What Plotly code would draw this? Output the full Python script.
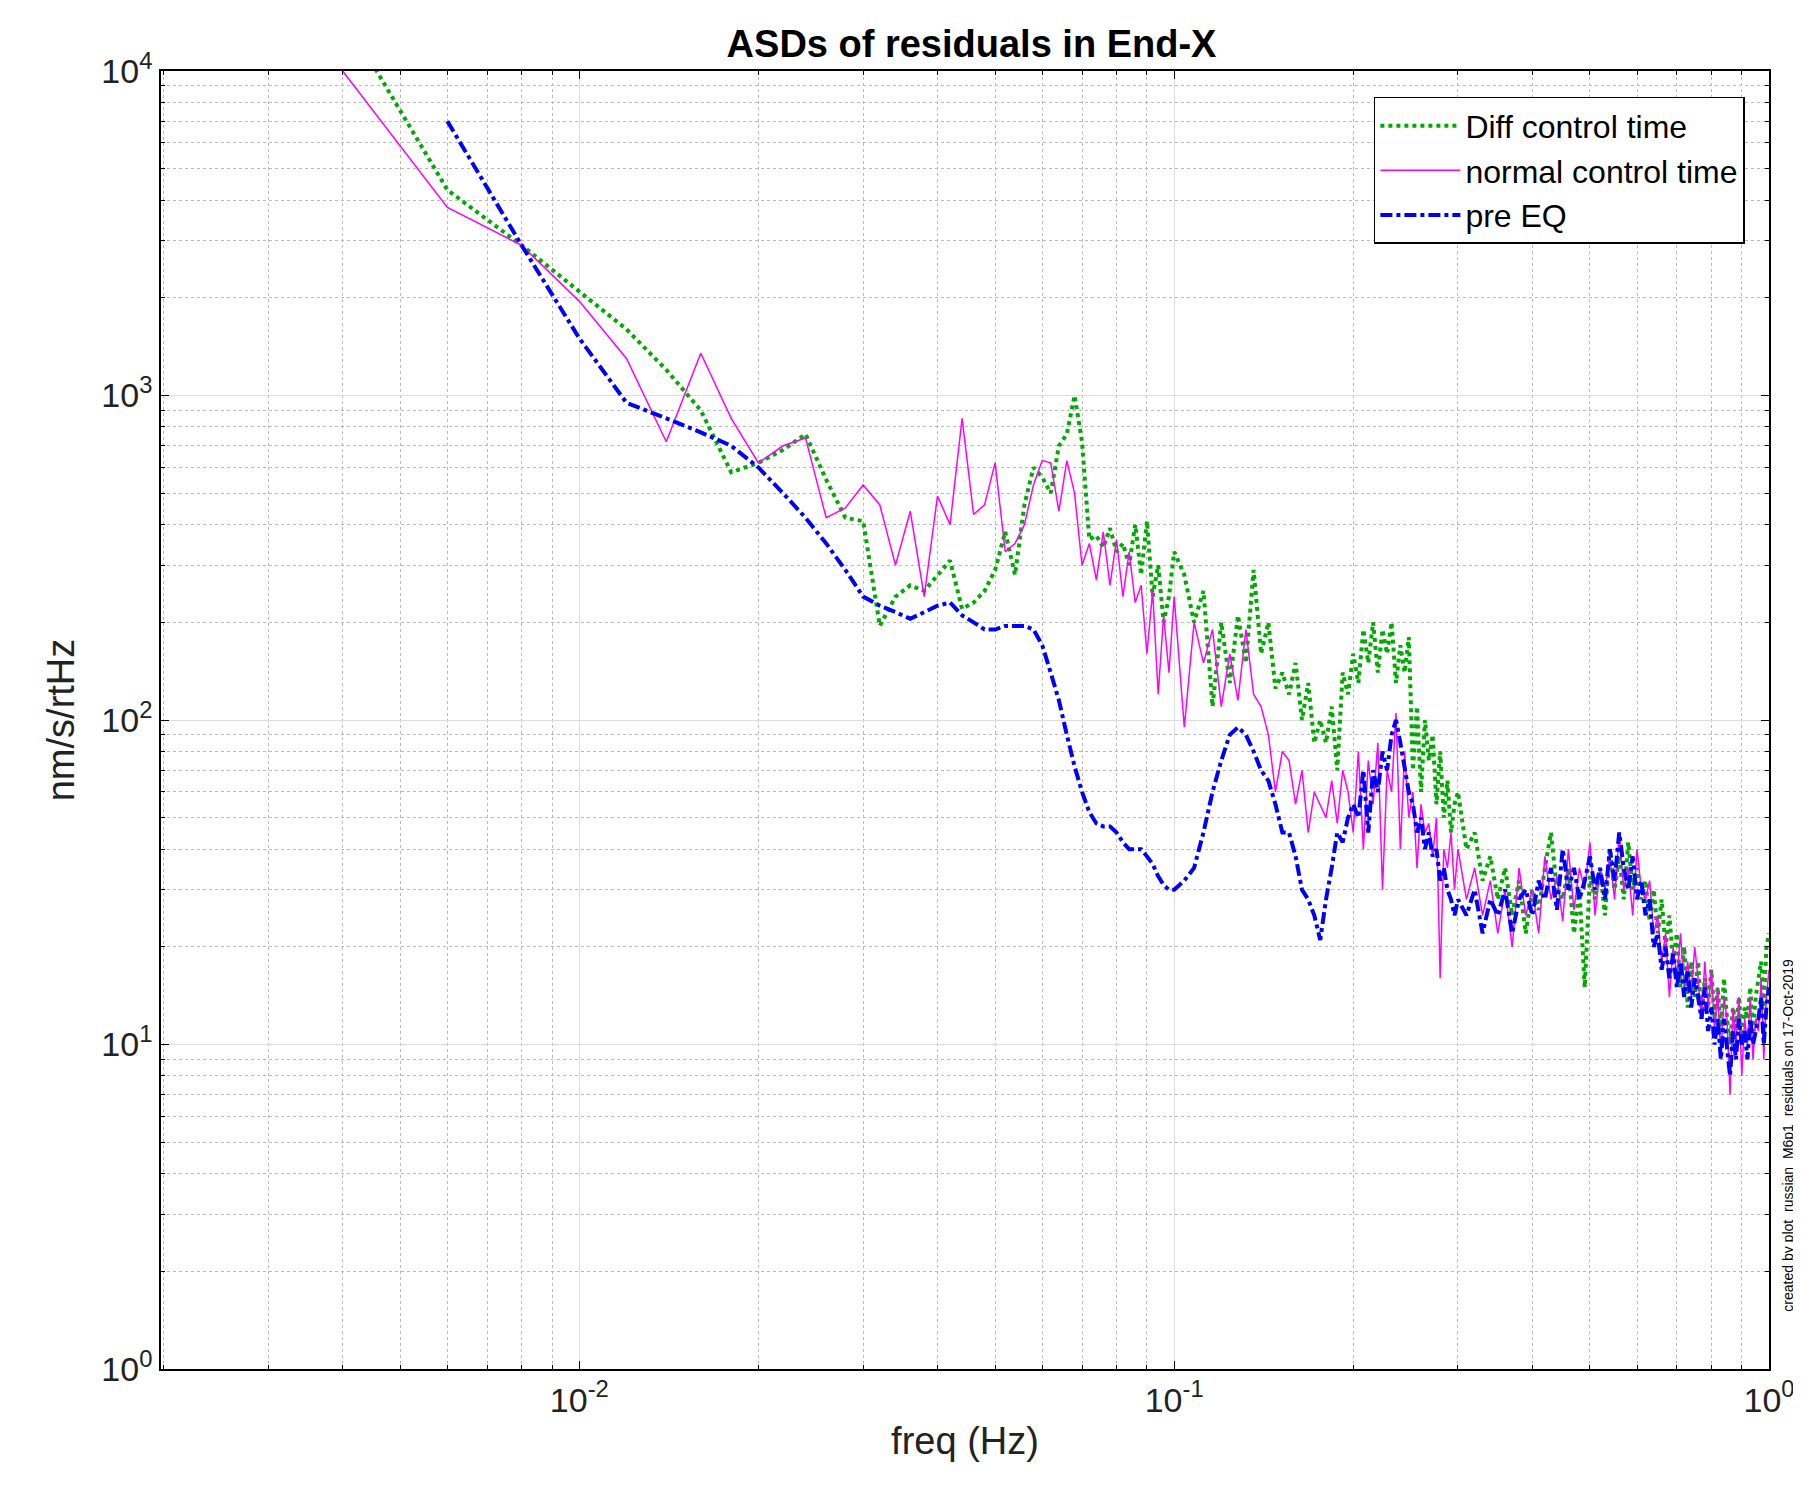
import numpy as np
import plotly.graph_objects as go

# frequency grids (Hz)
f_lo = np.round(np.arange(0.004, 0.0981, 0.002), 4)
f_mid = np.round(np.arange(0.100, 0.2961, 0.004), 4)
f_hi = np.round(np.arange(0.30, 1.0001, 0.01), 3)
freq = np.concatenate([f_lo, f_mid, f_hi])

normal_lo = [10000, 3800, 2900, 1950, 1300, 720, 1350, 850, 620, 700, 740, 420, 450, 530, 460, 300,
             440, 240, 490, 400, 850, 430, 460, 620, 330, 350, 400, 530, 630, 620, 440, 630, 500, 300,
             350, 270, 380, 260, 360, 240, 330, 230, 260, 160, 250, 120, 210, 140]
normal_mid = [240, 95, 200, 150, 190, 110, 160, 115, 190, 120, 110, 90, 60, 80, 75, 55, 70, 45, 60, 55,
              50, 65, 48, 70, 60, 45, 80, 40, 75, 55, 85, 30, 70, 60, 105, 40, 80, 50, 60, 35, 55, 45,
              48, 38, 50, 16, 40, 35, 45, 30]
normal_hi = [40, 28, 35, 25, 32, 22, 30, 20, 35, 25, 30, 22, 38, 28, 33, 24, 40, 26, 35, 30, 42, 25, 35,
             30, 38, 28, 45, 30, 35, 25, 40, 30, 28, 32, 22, 25, 18, 22, 14, 20, 16, 22, 15, 18, 14, 20,
             16, 12, 18, 13, 17, 11, 15, 9, 14, 12, 7, 13, 10, 14, 8, 12, 10, 14, 9, 12, 11, 16, 9, 14, 17]

diff_lo = [15000, 4300, 2900, 2100, 1600, 1200, 900, 580, 620, 680, 760, 550, 420, 410, 195, 240, 260,
           250, 280, 310, 220, 230, 250, 290, 380, 280, 460, 600, 560, 500, 700, 760, 1000, 720, 360,
           370, 340, 390, 330, 350, 300, 400, 280, 410, 240, 300, 200, 240]
diff_mid = [330, 280, 200, 250, 110, 200, 130, 210, 150, 290, 160, 200, 125, 140, 120, 150, 100, 130, 85,
            100, 85, 110, 70, 140, 120, 160, 130, 190, 150, 200, 140, 190, 160, 200, 130, 170, 140, 180,
            70, 110, 60, 100, 75, 90, 55, 80, 50, 65, 45, 55]
diff_hi = [60, 40, 45, 32, 38, 28, 35, 25, 32, 22, 30, 26, 35, 45, 30, 28, 35, 22, 30, 15, 33, 28, 35, 25,
           40, 30, 38, 28, 42, 30, 35, 28, 32, 24, 30, 22, 28, 20, 25, 18, 22, 15, 20, 13, 18, 14, 18, 12,
           16, 13, 17, 12, 15, 11, 16, 12, 10, 13, 11, 14, 10, 13, 12, 15, 11, 14, 16, 18, 13, 20, 22]

pre_lo = [None, 7000, 2900, 1500, 950, 850, 770, 700, 600, 500, 420, 350, 290, 240, 225, 215, 205, 215,
          225, 230, 210, 200, 190, 190, 195, 195, 195, 190, 170, 140, 115, 90, 72, 60, 52, 48, 47, 47,
          45, 42, 40, 40, 40, 38, 36, 33, 31, 30]
pre_mid = [30, 32, 35, 45, 60, 75, 90, 95, 90, 80, 70, 65, 55, 45, 45, 38, 30, 28, 25, 21, 28, 35, 45,
           42, 50, 55, 50, 70, 45, 70, 60, 80, 70, 90, 100, 85, 70, 60, 55, 45, 50, 40, 45, 38, 40, 32,
           35, 30, 28, 25]
pre_hi = [28, 25, 30, 22, 28, 25, 30, 22, 28, 30, 25, 32, 28, 35, 26, 40, 30, 35, 28, 32, 38, 30, 35, 28,
          40, 32, 45, 35, 30, 38, 28, 32, 25, 28, 20, 22, 17, 20, 16, 19, 15, 18, 14, 17, 13, 16, 14, 12,
          15, 11, 13, 10, 12, 9, 12, 10, 8, 11, 9, 12, 10, 11, 9, 12, 10, 11, 12, 14, 10, 13, 15]

normal = normal_lo + normal_mid + normal_hi
diff = diff_lo + diff_mid + diff_hi
pre = pre_lo + pre_mid + pre_hi

fig = go.Figure()
fig.add_trace(go.Scatter(x=freq, y=diff, mode='lines', name='Diff control time',
                         line=dict(color='#00aa00', width=4, dash='dot')))
fig.add_trace(go.Scatter(x=freq, y=normal, mode='lines', name='normal control time',
                         line=dict(color='#ff00ff', width=1.5)))
fig.add_trace(go.Scatter(x=freq, y=pre, mode='lines', name='pre EQ',
                         line=dict(color='#0000ff', width=4, dash='dashdot')))

minor_x = [k * 10.0 ** e for e in (-3, -2, -1) for k in range(2, 10) if 0.002 <= k * 10.0 ** e < 1]
minor_y = [k * 10.0 ** e for e in (0, 1, 2, 3) for k in range(2, 10)]

axis_common = dict(showline=True, linecolor='black', linewidth=1.5, mirror='ticks', ticks='inside',
                   ticklen=8, tickcolor='black', showgrid=True, gridcolor='#dddddd', gridwidth=1,
                   tickfont=dict(family='Liberation Sans, Arial', size=34, color='#222'), zeroline=False)

fig.update_xaxes(type='log', range=[np.log10(0.00198), 0], tickvals=[0.01, 0.1, 1],
                 ticktext=['10<sup>-2</sup>', '10<sup>-1</sup>', '10<sup>0</sup>'],
                 title=dict(text='freq (Hz)', font=dict(family='Liberation Sans, Arial', size=38, color='#222'),
                            standoff=10),
                 minor=dict(tickvals=minor_x, ticks='inside', ticklen=4, tickcolor='black', showgrid=True,
                            gridcolor='#bbbbbb', griddash='dot', gridwidth=1),
                 **axis_common)
fig.update_yaxes(type='log', range=[0, 4], tickvals=[1, 10, 100, 1000, 10000],
                 ticktext=['10<sup>0</sup>', '10<sup>1</sup>', '10<sup>2</sup>', '10<sup>3</sup>', '10<sup>4</sup>'],
                 title=dict(text='nm/s/rtHz', font=dict(family='Liberation Sans, Arial', size=38, color='#222'),
                            standoff=15),
                 minor=dict(tickvals=minor_y, ticks='inside', ticklen=4, tickcolor='black', showgrid=True,
                            gridcolor='#bbbbbb', griddash='dot', gridwidth=1),
                 **axis_common)

fig.add_annotation(text='created by plot_russian_M6p1_residuals on 17-Oct-2019', xref='paper', yref='paper',
                   x=1.012, y=0.18, xanchor='center', yanchor='middle', textangle=-90, showarrow=False,
                   font=dict(family='Liberation Sans, Arial', size=14, color='black'))

fig.update_layout(
    width=1801, height=1500,
    paper_bgcolor='white', plot_bgcolor='white',
    margin=dict(l=153, r=40, t=63, b=139),
    title=dict(text='<b>ASDs of residuals in End-X</b>', x=0.535, xanchor='center', y=0.985,
               font=dict(family='Liberation Sans, Arial', size=38, color='black')),
    legend=dict(x=0.985, y=0.98, xanchor='right', yanchor='top', bgcolor='white', bordercolor='black',
                borderwidth=1.5, font=dict(family='Liberation Sans, Arial', size=32, color='black'),
                itemwidth=80),
    showlegend=True,
)

fig.write_html("out.html")
